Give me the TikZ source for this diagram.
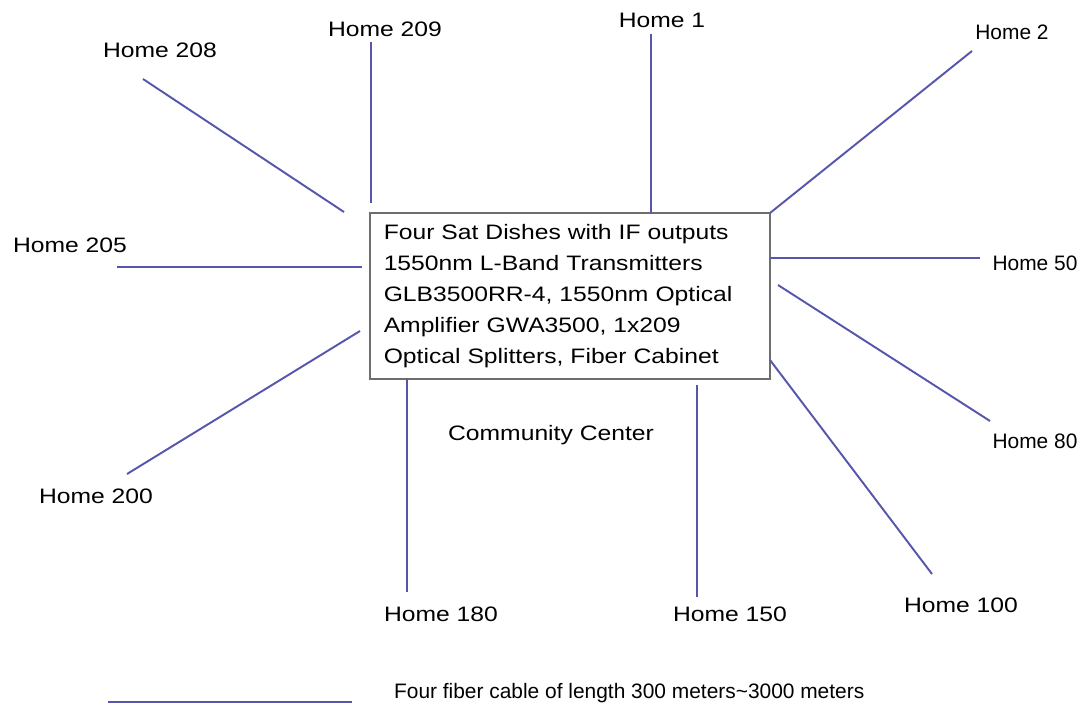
\documentclass[tikz,border=0pt]{standalone}
\usepackage{fontspec}
\setmainfont{Liberation Sans}[FakeStretch=1.18]
\newfontfamily\narrowfont{Liberation Sans}
\usepackage{tikz}
\usepackage{xcolor}
\usetikzlibrary{positioning}
\definecolor{fiber}{HTML}{5656AC}
\definecolor{frame}{HTML}{6E6E6E}

\begin{document}
\begin{tikzpicture}[
      x=0.2mm, y=-0.2mm,
      hub/.style={rectangle, draw=frame, line width=0.7pt, fill=white,
                  minimum width=8cm, minimum height=3.32cm, inner sep=0pt,
                  text width=7.45cm, align=left,
                  font=\fontsize{11.9pt}{17.6pt}\selectfont},
      home/.style={font=\fontsize{11.9pt}{14pt}\selectfont, inner sep=1pt},
      homenarrow/.style={font=\narrowfont\fontsize{11.9pt}{14pt}\selectfont,
                         inner sep=1pt},
      cable/.style={fiber, line width=1.1pt}
    ]
    \useasboundingbox (0,0) rectangle (1082,708);

    \node[hub] (cabinet) at (570,296) {Four Sat Dishes with IF outputs\\
      1550nm L-Band Transmitters\\GLB3500RR-4, 1550nm Optical\\
      Amplifier GWA3500, 1x209\\Optical Splitters, Fiber Cabinet};
    \node[home] (center) at (551,435) {Community Center};

    \node[home] (h208) at (160,50) {Home 208};
    \node[home] (h209) at (385,29) {Home 209};
    \node[home] (h1) at (662,20) {Home 1};
    \node[homenarrow] (h2) at (1012,32) {Home 2};
    \node[home] (h205) at (70,245) {Home 205};
    \node[homenarrow] (h50) at (1035,263) {Home 50};
    \node[homenarrow] (h80) at (1035,441) {Home 80};
    \node[home] (h200) at (96,496) {Home 200};
    \node[home] (h180) at (441,614) {Home 180};
    \node[home] (h150) at (730,614) {Home 150};
    \node[home] (h100) at (961,605) {Home 100};

    % cable ends next to the cabinet
    \coordinate (c208) at (344,212);
    \coordinate (c209) at (371,203);
    \coordinate (c1) at (651,213);
    \coordinate (c2) at (770,213);
    \coordinate (c205) at (362,267);
    \coordinate (c50) at (770,258);
    \coordinate (c80) at (778,285);
    \coordinate (c200) at (360,331);
    \coordinate (c180) at (407,379);
    \coordinate (c150) at (697,385);
    \coordinate (c100) at (770,360);

    % cable ends next to the homes
    \coordinate (e208) at (143,79);
    \coordinate (e209) at (371,42);
    \coordinate (e1) at (651,34);
    \coordinate (e2) at (972,51);
    \coordinate (e205) at (117,267);
    \coordinate (e50) at (980,258);
    \coordinate (e80) at (990,421);
    \coordinate (e200) at (127,474);
    \coordinate (e180) at (407,592);
    \coordinate (e150) at (697,597);
    \coordinate (e100) at (932,574);

    \draw[cable] (c208) -- (e208);
    \draw[cable] (c209) -- (e209);
    \draw[cable] (c1) -- (e1);
    \draw[cable] (c2) -- (e2);
    \draw[cable] (c205) -- (e205);
    \draw[cable] (c50) -- (e50);
    \draw[cable] (c80) -- (e80);
    \draw[cable] (c200) -- (e200);
    \draw[cable] (c180) -- (e180);
    \draw[cable] (c150) -- (e150);
    \draw[cable] (c100) -- (e100);

    % legend
    \coordinate (keyA) at (108,702);
    \coordinate (keyB) at (352,702);
    \draw[cable] (keyA) -- (keyB);
    \node[homenarrow, anchor=west] (keytext) at (392,693)
      {Four fiber cable of length 300 meters\textasciitilde3000 meters};
\end{tikzpicture}
\end{document}
